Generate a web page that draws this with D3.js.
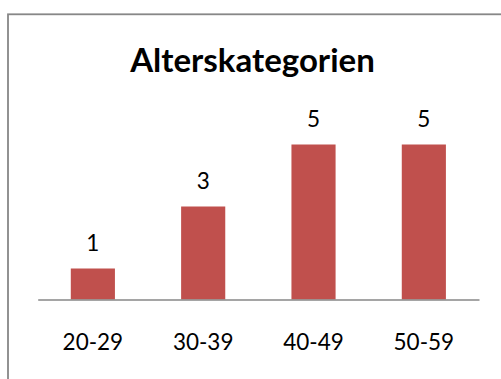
<!DOCTYPE html>
<html>
<head>
<meta charset="utf-8">
<script src="https://cdn.jsdelivr.net/npm/d3@7"></script>
<style>
  html, body { margin: 0; padding: 0; background: #fff; }
  svg { display: block; }
</style>
</head>
<body>
<svg id="chart" width="501" height="379"></svg>
<script>
// Age groups and head counts per group
const categories = ["20-29", "30-39", "40-49", "50-59"];
const counts = [1, 3, 5, 5];
const yMax = 6;
const title = "Alterskategorien";

const svg = d3.select("#chart");
const W = 501, H = 379;

// Chart frame (runs past the right and bottom edges)
svg.append("rect")
  .attr("x", 8).attr("y", 14.3)
  .attr("width", 700).attr("height", 700)
  .attr("fill", "#fff")
  .attr("stroke", "#878787")
  .attr("stroke-width", 1.8);

const x = d3.scaleBand()
  .domain(categories)
  .range([37.7, 479])
  .paddingInner(0.6)
  .paddingOuter(0.3);

const y = d3.scaleLinear()
  .domain([0, yMax])
  .range([299.5, 113.5]);

// Title
svg.append("text")
  .attr("x", 252.5).attr("y", 71.7)
  .attr("text-anchor", "middle")
  .attr("font-family", "Lato, 'Open Sans', sans-serif")
  .attr("font-weight", "bold")
  .attr("font-size", 33)
  .attr("fill", "#000")
  .text(title);

const data = categories.map((c, i) => ({ cat: c, value: counts[i] }));

// Bars
svg.append("g").selectAll("rect")
  .data(data)
  .join("rect")
  .attr("x", d => x(d.cat))
  .attr("y", d => y(d.value))
  .attr("width", x.bandwidth())
  .attr("height", d => y(0) - y(d.value))
  .attr("fill", "#C0504D");

// Value labels
svg.append("g").selectAll("text")
  .data(data)
  .join("text")
  .attr("x", d => x(d.cat) + x.bandwidth() / 2)
  .attr("y", d => y(d.value) - 18)
  .attr("text-anchor", "middle")
  .attr("font-family", "Lato, 'Open Sans', sans-serif")
  .attr("font-size", 22.5)
  .attr("fill", "#000")
  .text(d => d.value);

// Category axis
const axis = svg.append("g")
  .attr("transform", `translate(0,${y(0)})`)
  .call(d3.axisBottom(x).tickSize(0).tickSizeOuter(0));
axis.select(".domain")
  .attr("stroke", "#878787")
  .attr("stroke-width", 1.5);
axis.selectAll(".tick text")
  .attr("y", 50.5)
  .attr("dy", 0)
  .attr("font-family", "Lato, 'Open Sans', sans-serif")
  .attr("font-size", 22.5)
  .attr("fill", "#000");
</script>
</body>
</html>
